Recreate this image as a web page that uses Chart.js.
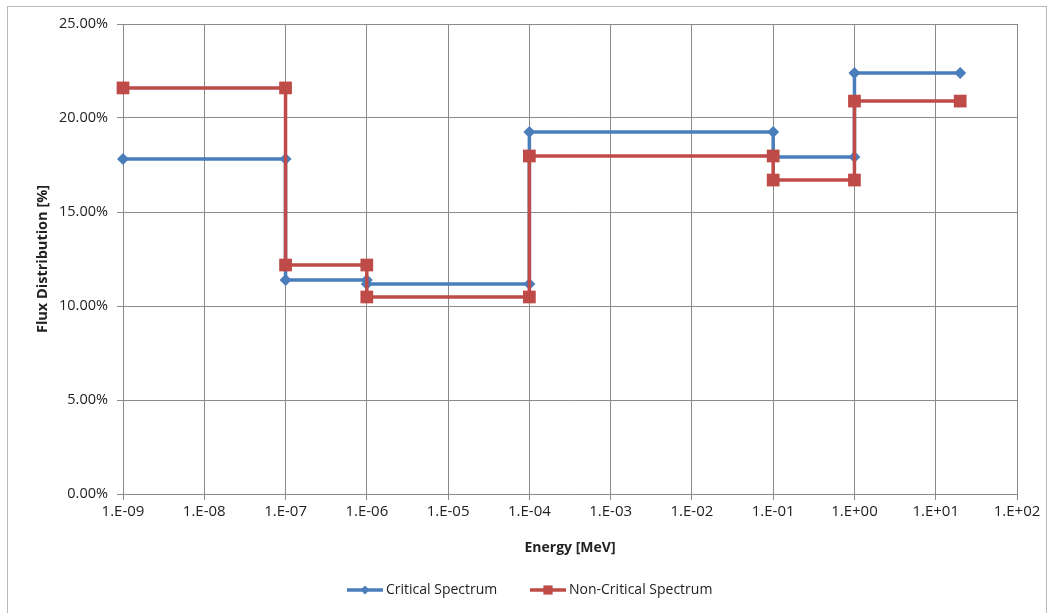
<!DOCTYPE html>
<html>
<head>
<meta charset="utf-8">
<script src="https://cdn.jsdelivr.net/npm/chart.js@4.4.0/dist/chart.umd.min.js"></script>
<style>
  html, body { margin: 0; padding: 0; background: #fff; }
</style>
</head>
<body>
<canvas id="myChart" width="1052" height="613"></canvas>
<script>
// energia [MeV] dei punti a gradino (stessa x per entrambi gli spettri)
const energia = [1e-9, 1e-7, 1e-7, 1e-6, 1e-6, 1e-4, 1e-4, 1e-1, 1e-1, 1, 1, 20]
// distribuzione del flusso [%]
const critico = [17.82, 17.82, 11.38, 11.38, 11.17, 11.17, 19.26, 19.26, 17.93, 17.93, 22.39, 22.39]
const nonCritico = [21.6, 21.6, 12.18, 12.18, 10.48, 10.48, 17.98, 17.98, 16.7, 16.7, 20.9, 20.9]
// tacche degli assi
const tickEnergia = [1e-9, 1e-8, 1e-7, 1e-6, 1e-5, 1e-4, 1e-3, 1e-2, 1e-1, 1, 10, 100]
const tickFlusso = [0, 5, 10, 15, 20, 25]

const nomi = ['Critical Spectrum', 'Non-Critical Spectrum']
const colori = ['#4a7ebb', '#be4b48']
const forme = ['rectRot', 'rect']
const raggi = [6, 9]

const font = "'Open Sans'"
const grigio = '#8a8a8a'

function punti(valori) {
  return energia.map((e, i) => ({ x: e, y: valori[i] }))
}

// formato tipo Excel: 1.E-09, 1.E+00 ...
function etichettaEnergia(v) {
  const esp = Math.round(Math.log10(v))
  const s = String(Math.abs(esp)).padStart(2, '0')
  return '1.E' + (esp < 0 ? '-' : '+') + s
}

// cornice esterna del grafico
const cornice = {
  id: 'cornice',
  beforeDraw(chart) {
    const ctx = chart.ctx
    ctx.save()
    ctx.strokeStyle = '#b8b8b8'
    ctx.lineWidth = 1
    ctx.strokeRect(7.5, 6.5, 1039, 620)
    ctx.restore()
  }
}

// legenda in basso con linea + marcatore
const legenda = {
  id: 'legenda',
  afterDraw(chart) {
    const ctx = chart.ctx
    const y = 590
    const inizio = [347, 530]
    ctx.save()
    ctx.font = '14px ' + font
    ctx.textBaseline = 'middle'
    for (let i = 0; i < nomi.length; i++) {
      const x0 = inizio[i]
      ctx.strokeStyle = colori[i]
      ctx.lineWidth = 3.5
      ctx.beginPath()
      ctx.moveTo(x0, y)
      ctx.lineTo(x0 + 36, y)
      ctx.stroke()
      ctx.fillStyle = colori[i]
      Chart.helpers.drawPoint(ctx, { pointStyle: forme[i], radius: i == 0 ? 4.5 : 6.5, borderWidth: 0 }, x0 + 18, y)
      ctx.fillStyle = '#222'
      ctx.fillText(nomi[i], x0 + 39, y)
    }
    ctx.restore()
  }
}

const ctx = document.getElementById('myChart').getContext('2d')
const myChart = new Chart(ctx, {
  type: 'line',
  data: {
    datasets: [0, 1].map(i => ({
      label: nomi[i],
      data: punti(i == 0 ? critico : nonCritico),
      borderColor: colori[i],
      backgroundColor: colori[i],
      borderWidth: 3.5,
      pointStyle: forme[i],
      pointRadius: raggi[i],
      pointBorderWidth: 0,
      pointBackgroundColor: colori[i],
      tension: 0,
      clip: false,
      order: 1 - i
    }))
  },
  options: {
    responsive: false,
    animation: false,
    layout: { padding: { left: 27, right: 35, top: 24, bottom: 57 } },
    plugins: {
      legend: { display: false },
      tooltip: { enabled: false }
    },
    scales: {
      x: {
        type: 'logarithmic',
        min: 1e-9,
        max: 100,
        afterBuildTicks: s => { s.ticks = tickEnergia.map(v => ({ value: v })) },
        afterFit: s => { s.height = 62 },
        grid: { color: grigio, lineWidth: 1, tickLength: 6, drawTicks: true },
        border: { color: grigio, width: 1 },
        ticks: {
          callback: v => etichettaEnergia(v),
          color: '#222',
          font: { family: font, size: 15 },
          padding: 3,
          maxRotation: 0,
          autoSkip: false
        },
        title: {
          display: true,
          text: 'Energy [MeV]',
          color: '#222',
          font: { family: font, size: 14, weight: 'bold' },
          padding: { top: 2, bottom: 0 }
        }
      },
      y: {
        type: 'linear',
        min: 0,
        max: 25,
        afterBuildTicks: s => { s.ticks = tickFlusso.map(v => ({ value: v })) },
        afterFit: s => { s.width = 96 },
        grid: { color: grigio, lineWidth: 1, tickLength: 6, drawTicks: true },
        border: { color: grigio, width: 1 },
        ticks: {
          callback: v => v.toFixed(2) + '%',
          color: '#222',
          font: { family: font, size: 14.5 },
          padding: 9
        },
        title: {
          display: true,
          text: 'Flux Distribution [%]',
          color: '#222',
          font: { family: font, size: 14.5, weight: 'bold' },
          padding: { top: 7, bottom: 0 }
        }
      }
    }
  },
  plugins: [cornice, legenda]
})
</script>
</body>
</html>
